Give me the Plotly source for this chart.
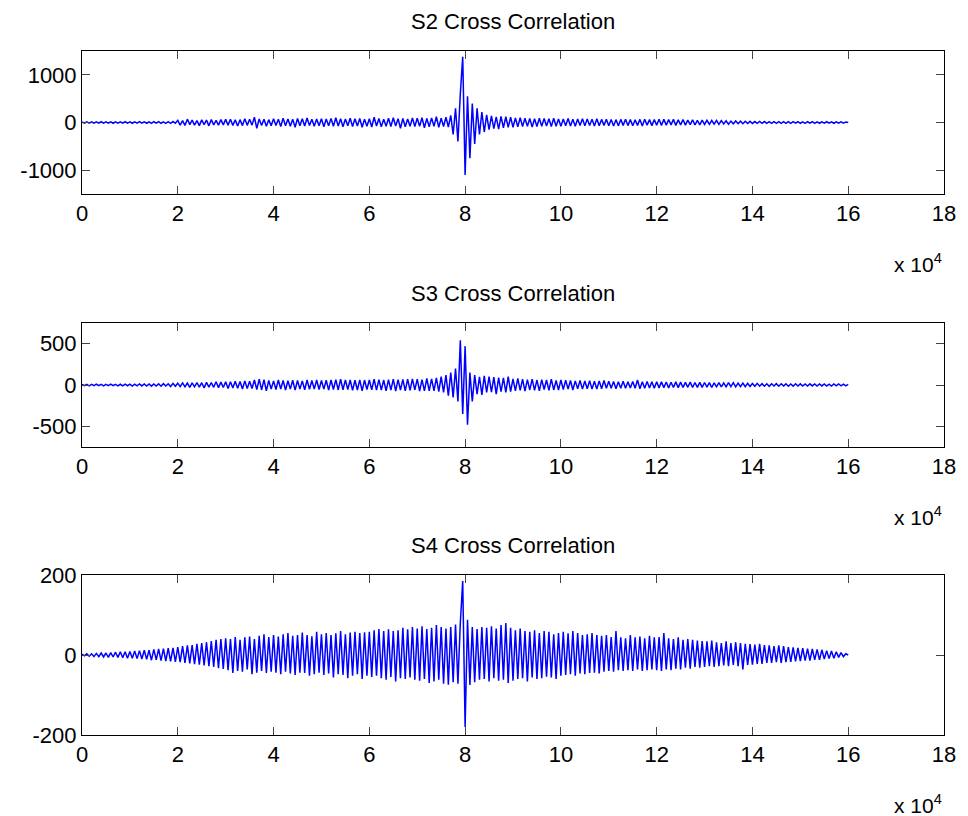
import plotly.graph_objects as go

# Lag axis: samples every 500 lags from 0 to 160000; tick labels are in units of 1e4
LAG_STEP = 500
XTICK_VALS = [0, 20000, 40000, 60000, 80000, 100000, 120000, 140000, 160000, 180000]
XTICK_TEXT = ["0", "2", "4", "6", "8", "10", "12", "14", "16", "18"]

# ---- S2 cross correlation (one row = 10000 lags)
S2_VALS = [
    12, -14, 15, -12, 14, -15, 13, -14, 16, -12, 14, -15, 12, -16, 14, -13, 15, -14, 16, -15,
    14, -16, 15, -13, 17, -15, 14, -16, 15, -17, 16, -14, 18, -16, 15, -17, 16, -18, 20, -17,
    45, -55, 40, -60, 70, -45, 50, -55, 40, -65, 55, -45, 50, -70, 60, -50, 45, -55, 60, -50,
    65, -55, 70, -60, 55, -75, 60, -65, 80, -60, 70, -55, 110, -120, 75, -65, 70, -80, 60, -70,
    80, -65, 70, -85, 90, -70, 75, -80, 70, -100, 85, -70, 80, -75, 95, -65, 70, -80, 75, -70,
    80, -90, 75, -70, 85, -80, 100, -75, 80, -90, 75, -70, 90, -85, 80, -75, 85, -100, 70, -80,
    80, -95, 110, -75, 85, -90, 70, -80, 90, -85, 100, -75, 80, -120, 85, -90, 75, -80, 95, -85,
    90, -80, 100, -110, 85, -90, 95, -80, 120, -100, 90, -85, 110, -95, 150, -250, 300, -400, 600, 1380,
    -1100, 550, -750, 400, -450, 300, -250, 220, -200, 160, -150, 140, -130, 120, -140, 130, -110, 120, -100, 110,
    -100, 95, -90, 100, -85, 90, -80, 85, -95, 80, -85, 90, -80, 85, -75, 80, -85, 90, -80, 75,
    -80, 75, -70, 85, -75, 70, -80, 75, -65, 80, -70, 75, -65, 70, -75, 80, -70, 65, -60, 70,
    -70, 65, -75, 60, -70, 65, -60, 70, -65, 60, -70, 55, -60, 65, -75, 70, -55, 60, -65, 60,
    -55, 70, -60, 65, -55, 60, -50, 65, -60, 55, -50, 60, -55, 50, -45, 55, -50, 45, -50, 48,
    -40, 45, -40, 42, -35, 45, -38, 40, -30, 35, -35, 30, -28, 32, -25, 28, -25, 26, -22, 24,
    -20, 20, -18, 22, -18, 20, -17, 19, -18, 18, -16, 18, -17, 16, -18, 17, -16, 18, -15, 16,
    -16, 15, -17, 16, -15, 16, -17, 15, -16, 15, -14, 16, -15, 14, -16, 15, -14, 15, -13, 12,
    0,
]

# ---- S3 cross correlation
S3_VALS = [
    8, -9, 8, -10, 9, -8, 10, -9, 8, -10, 9, -8, 10, -9, 8, -10, 9, -11, 10, -9,
    10, -12, 11, -10, 12, -11, 13, -12, 12, -14, 13, -12, 14, -15, 16, -13, 15, -18, 20, -16,
    22, -20, 25, -22, 24, -28, 26, -22, 30, -25, 28, -35, 32, -26, 30, -28, 40, -32, 35, -30,
    38, -42, 40, -36, 45, -40, 42, -48, 50, -44, 46, -42, 60, -55, 70, -60, 65, -70, 55, -50,
    50, -55, 60, -48, 55, -60, 52, -50, 58, -62, 55, -50, 50, -58, 60, -52, 55, -50, 60, -55,
    55, -50, 58, -62, 60, -55, 65, -60, 70, -58, 62, -55, 60, -65, 58, -60, 62, -70, 60, -55,
    60, -58, 70, -62, 65, -60, 60, -70, 65, -62, 70, -75, 65, -60, 68, -72, 70, -65, 75, -60,
    70, -75, 65, -70, 80, -72, 75, -70, 85, -80, 100, -90, 120, -130, 150, -150, 200, -200, 540, -350,
    470, -480, 150, -200, 120, -110, 100, -120, 110, -90, 100, -85, 95, -110, 90, -80, 85, -90, 100, -80,
    75, -70, 80, -65, 70, -75, 65, -60, 70, -65, 60, -70, 65, -55, 60, -65, 70, -60, 55, -60,
    60, -55, 58, -50, 55, -60, 50, -45, 55, -50, 48, -45, 52, -50, 45, -48, 50, -45, 55, -40,
    45, -40, 42, -45, 40, -38, 45, -40, 38, -35, 42, -40, 60, -45, 40, -38, 42, -35, 40, -38,
    40, -35, 38, -32, 36, -35, 34, -30, 38, -32, 35, -30, 32, -28, 35, -30, 30, -28, 32, -28,
    30, -25, 28, -30, 26, -22, 28, -24, 25, -22, 30, -20, 28, -22, 24, -20, 22, -20, 20, -18,
    18, -15, 20, -14, 16, -15, 14, -16, 15, -13, 16, -14, 15, -13, 14, -15, 13, -14, 15, -13,
    14, -12, 13, -12, 14, -11, 13, -12, 12, -11, 13, -12, 11, -12, 12, -11, 12, -10, 11, -10,
    8,
]

# ---- S4 cross correlation
S4_VALS = [
    2, -2, 3, -3, 3, -4, 4, -4, 5, -5, 5, -6, 6, -5, 7, -6, 8, -7, 8, -8,
    9, -8, 10, -9, 11, -10, 12, -11, 12, -13, 14, -12, 15, -14, 16, -15, 17, -16, 18, -17,
    20, -18, 22, -20, 24, -21, 25, -23, 28, -24, 30, -26, 32, -28, 35, -30, 38, -33, 40, -35,
    42, -38, 40, -45, 45, -40, 38, -42, 44, -36, 46, -48, 40, -44, 48, -40, 52, -45, 45, -42,
    50, -44, 46, -48, 52, -42, 55, -46, 48, -50, 50, -44, 56, -45, 50, -52, 47, -48, 58, -44,
    52, -50, 55, -46, 50, -56, 54, -48, 60, -50, 52, -58, 56, -52, 58, -48, 55, -60, 57, -52,
    58, -55, 62, -52, 65, -58, 60, -62, 64, -55, 60, -66, 62, -58, 68, -60, 64, -56, 70, -62,
    66, -64, 72, -60, 65, -70, 68, -66, 75, -62, 70, -72, 66, -74, 70, -68, 76, -72, 80, 185,
    -180, 88, -75, 70, -68, 65, -62, 70, -60, 68, -66, 72, -58, 66, -64, 75, -62, 80, -70, 68,
    -64, 62, -60, 66, -58, 60, -66, 58, -56, 62, -60, 55, -58, 60, -54, 58, -56, 52, -60, 55,
    -52, 58, -50, 54, -48, 60, -52, 55, -46, 50, -48, 52, -45, 55, -44, 50, -46, 48, -42, 50,
    -40, 45, -42, 60, -38, 44, -40, 42, -38, 50, -40, 44, -36, 46, -40, 42, -38, 48, -36, 44,
    -38, 45, -40, 55, -36, 42, -38, 40, -34, 44, -36, 38, -32, 40, -34, 38, -30, 36, -32, 35,
    -30, 34, -28, 36, -30, 32, -28, 30, -26, 34, -28, 30, -25, 32, -28, 30, -36, 28, -25, 27,
    -24, 26, -22, 28, -22, 25, -20, 24, -20, 22, -18, 24, -20, 22, -18, 20, -17, 19, -16, 18,
    -15, 17, -14, 16, -14, 15, -12, 14, -12, 13, -10, 11, -9, 10, -8, 8, -6, 6, -4, 3,
    0,
]

TITLES = ["S2 Cross Correlation", "S3 Cross Correlation", "S4 Cross Correlation"]
SERIES = [S2_VALS, S3_VALS, S4_VALS]
Y_RANGES = [[-1500, 1500], [-750, 750], [-200, 200]]
Y_TICKS = [[-1000, 0, 1000], [-500, 0, 500], [-200, 0, 200]]

# figure sits inside the page's 8px body margin
W, H = 960, 808
ML, MR, MT, MB = 74, 18, 43, 81
PH = H - MT - MB
boxes = [(43, 186), (315, 439), (567, 727)]  # (top, bottom) of each axes box in figure px

FONT = "Liberation Sans, Arial, sans-serif"
fig = go.Figure()

for k, vals in enumerate(SERIES):
    n = "" if k == 0 else str(k + 1)
    lags = [i * LAG_STEP for i in range(len(vals))]
    fig.add_trace(go.Scatter(x=lags, y=vals, mode="lines", line=dict(color="#0000FF", width=1.5),
                             xaxis="x" + n, yaxis="y" + n, showlegend=False, hoverinfo="skip"))
    top, bot = boxes[k]
    dom = [(H - MB - bot) / PH, (H - MB - top) / PH]
    axis_common = dict(showline=True, linecolor="black", linewidth=1, mirror="ticks",
                       ticks="inside", ticklen=8, tickcolor="#444", showgrid=False, zeroline=False,
                       tickfont=dict(family=FONT, size=22, color="black"))
    fig.layout["xaxis" + n] = dict(axis_common, domain=[0, 1], range=[0, 180000],
                                   tickvals=XTICK_VALS, ticktext=XTICK_TEXT,
                                   anchor="y" + n)
    fig.layout["yaxis" + n] = dict(axis_common, domain=dom, range=Y_RANGES[k],
                                   tickvals=Y_TICKS[k], ticktext=[str(v) for v in Y_TICKS[k]],
                                   anchor="x" + n)
    fig.add_annotation(text=TITLES[k], xref="paper", yref="paper", x=0.5, y=dom[1],
                       yshift=15, xanchor="center", yanchor="bottom", showarrow=False,
                       font=dict(family=FONT, size=22, color="black"))
    fig.add_annotation(text="x 10<sup>4</sup>", xref="paper", yref="paper", x=1.0, y=dom[0],
                       yshift=-54, xanchor="right", yanchor="top", showarrow=False,
                       font=dict(family=FONT, size=21, color="black"))

fig.update_layout(width=W, height=H, margin=dict(l=ML, r=MR, t=MT, b=MB),
                  paper_bgcolor="white", plot_bgcolor="white")

fig.write_html("out.html")
